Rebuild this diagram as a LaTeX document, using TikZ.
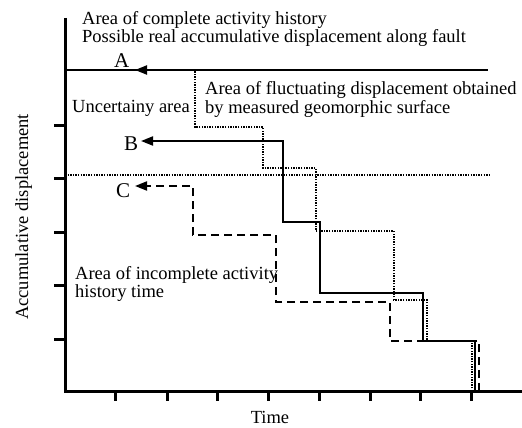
\documentclass[tikz,border=0pt]{standalone}
\usepackage{fontspec}
\setmainfont{Liberation Serif}
\usetikzlibrary{arrows.meta}
\begin{document}
\begin{tikzpicture}[x=1pt,y=-1pt,
  txt/.style={font=\fontsize{18.5}{16.5}\selectfont, inner sep=0pt, align=left, anchor=base west},
  letter/.style={font=\fontsize{21}{21}\selectfont, inner sep=0pt, anchor=base west},
  axisline/.style={line width=3pt},
  tickline/.style={line width=3pt},
  tip/.style={-{Triangle[length=12pt,width=9pt]}},
  solidpath/.style={line width=2pt, tip},
  dotpath/.style={line width=2.2pt, dash pattern=on 1.4pt off 1.2pt, tip},
  dashpath/.style={line width=2pt, dash pattern=on 8pt off 5pt, tip}]
\useasboundingbox (0,0) rectangle (522,428);
% axes
\draw[axisline] (65,18) -- (65,391) -- (522,391);
\foreach \y in {125,178,232,285,339} \draw[tickline] (54,\y) -- (65,\y);
\foreach \x in {115,167,217,268,319,370,420,471} \draw[tickline] (\x,391) -- (\x,401);
% reference lines
\draw[line width=1.5pt] (65,70) -- (488,70);
\draw[line width=1.5pt, dash pattern=on 1.3pt off 1.3pt] (65,175) -- (491,175);
% labels
\node[letter] (A) at (114,67) {A};
\node[letter] (B) at (124,150) {B};
\node[letter] (C) at (116,197) {C};
\coordinate (tipA) at (135,70);
\coordinate (tipB) at (141,141);
\coordinate (tipC) at (135,186);
% step paths
\draw[dotpath] (472,391) -- (472,341) -- (427,341) -- (427,300) -- (394,300) -- (394,231) -- (316,231) -- (316,168) -- (263,168) -- (263,127) -- (195,127) -- (195,70) -- (tipA);
\draw[solidpath] (475,391) -- (475,341) -- (423,341) -- (423,293) -- (320,293) -- (320,222) -- (283,222) -- (283,141) -- (tipB);
\draw[dashpath] (479,391) -- (479,341) -- (390,341) -- (390,302) -- (276,302) -- (276,235) -- (193,235) -- (193,186) -- (tipC);
% texts
\node[txt] (t1) at (82,43) {Area of complete activity history\\Possible real accumulative displacement along fault};
\node[txt] (t2) at (72,112) {Uncertainy area};
\node[txt] (t3) at (205,113) {Area of fluctuating displacement obtained\\by measured geomorphic surface};
\node[txt] (t4) at (75,297) {Area of incomplete activity\\history time};
\node[txt, anchor=base] (ylab) at (28,217) [rotate=90] {Accumulative displacement};
\node[txt, anchor=base] (xlab) at (270,423) {Time};
\end{tikzpicture}
\end{document}
